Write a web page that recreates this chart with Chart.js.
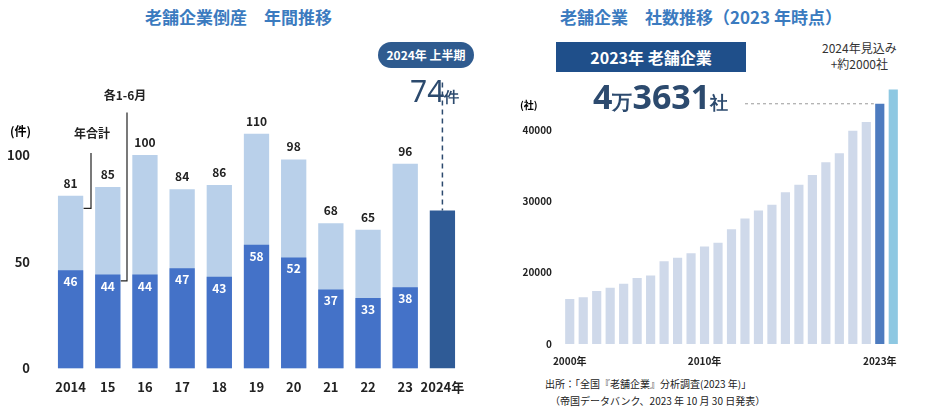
<!DOCTYPE html>
<html><head><meta charset="utf-8">
<script src="https://cdn.jsdelivr.net/npm/chart.js@4"></script>
<style>
body{margin:0;width:932px;height:413px;background:#fff;font-family:"Noto Sans CJK JP",sans-serif;position:relative;overflow:hidden}
.t{position:absolute;white-space:nowrap}
</style></head><body>
<div class="t" style="left:145px;top:4px;font-size:17px;font-weight:bold;color:#3b7bbf">老舗企業倒産　年間推移</div>
<div class="t" style="left:560px;top:4px;font-size:17px;font-weight:bold;color:#3b7bbf">老舗企業　社数推移（2023 年時点）</div>
<canvas id="c1" width="470" height="320" style="position:absolute;left:0;top:80px"></canvas>
<canvas id="c2" width="412" height="290" style="position:absolute;left:520px;top:80px"></canvas>
<div class="t" style="left:378px;top:42px;width:96px;height:26px;border-radius:13px;background:#2f5b8f;color:#fff;font-size:12px;font-weight:bold;text-align:center;line-height:26px">2024年 上半期</div>
<div class="t" style="left:410px;top:70px;font-size:30px;color:#2c4a6e;font-family:'Noto Sans'">74<span style="font-size:15px;font-weight:bold">件</span></div>
<div class="t" style="left:556px;top:42px;width:190px;height:30px;background:#1f4f8a;color:#fff;font-size:16px;font-weight:bold;text-align:center;line-height:30px">2023年 老舗企業</div>
<div class="t" style="left:593px;top:76px;font-size:34px;font-weight:bold;color:#2c4a6e;font-family:'Noto Sans';line-height:40px">4<span style="font-size:20px">万</span>3631<span style="font-size:18px">社</span></div>
<div class="t" style="left:822px;top:40px;font-size:12px;color:#333;text-align:center;line-height:16px">2024年見込み<br>+約2000社</div>
<div class="t" style="left:545px;top:375px;font-size:10px;color:#222;line-height:17px">出所：「全国『老舗企業』分析調査(2023 年)」<br>　（帝国データバンク、2023 年 10 月 30 日発表）</div>
<div class="t" style="left:10px;top:122px;font-size:12px;font-weight:bold">(件)</div>
<div class="t" style="left:520px;top:97px;font-size:10px;font-weight:bold">(社)</div>
<script>
const years1=["2014","15","16","17","18","19","20","21","22","23","2024年"];
const totals=[81,85,100,84,86,110,98,68,65,96,null];
const firstHalf=[46,44,44,47,43,58,52,37,33,38,74];
const years2=["2000","2001","2002","2003","2004","2005","2006","2007","2008","2009","2010","2011","2012","2013","2014","2015","2016","2017","2018","2019","2020","2021","2022","2023","2024"];
const companies=[16310,16530,17430,17880,18420,19230,19590,21580,22070,22700,23650,24190,26080,27570,28690,29500,31260,32300,33650,35450,36710,39860,41080,43631,45631];
const yTicks2=[10000,20000,30000,40000];
const xShown={"2000":"2000年","2010":"2010年","2023":"2023年"};
const F="'Noto Sans CJK JP',sans-serif";

const labels1={id:'l1',afterDatasetsDraw(ch){
 const c=ch.ctx;c.save();c.textAlign='center';
 const m0=ch.getDatasetMeta(0),m1=ch.getDatasetMeta(1),y=ch.scales.y;
 c.font="bold 12px "+F;
 m1.data.forEach((b,i)=>{if(totals[i]!=null){c.fillStyle='#222';c.fillText(totals[i],b.x,b.y-8);}});
 m0.data.forEach((b,i)=>{if(i<10){c.fillStyle='#fff';c.fillText(firstHalf[i],b.x,b.y+16);}});
 c.strokeStyle='#222';c.lineWidth=1.2;
 const b0=m0.data[0],b1=m0.data[1];
 c.beginPath();c.moveTo(91,y.getPixelForValue(101));c.lineTo(91,y.getPixelForValue(75));c.lineTo(b0.x+13,y.getPixelForValue(75));c.stroke();
 c.beginPath();c.moveTo(127,y.getPixelForValue(120));c.lineTo(127,y.getPixelForValue(41));c.lineTo(b1.x+13,y.getPixelForValue(41));c.stroke();
 c.fillStyle='#222';
 c.fillText('年合計',92,y.getPixelForValue(108));
 c.fillText('各1-6月',125,y.getPixelForValue(126));
 const bl=m0.data[10];c.setLineDash([5,4]);c.strokeStyle='#2c4a6e';c.lineWidth=1.5;
 c.beginPath();c.moveTo(bl.x,y.getPixelForValue(134));c.lineTo(bl.x,bl.y);c.stroke();
 c.restore();}};

new Chart(document.getElementById('c1'),{type:'bar',
 data:{labels:years1,datasets:[
  {data:firstHalf,backgroundColor:firstHalf.map((v,i)=>i==10?'#2f5b96':'#4472c8'),grouped:false,barPercentage:0.68,categoryPercentage:1,order:1},
  {data:totals,backgroundColor:'#b9d0ea',grouped:false,barPercentage:0.68,categoryPercentage:1,order:2}]},
 options:{responsive:false,animation:false,devicePixelRatio:1,
  layout:{padding:{left:0,right:9,top:20,bottom:2}},
  plugins:{legend:{display:false},tooltip:{enabled:false}},
  scales:{x:{grid:{display:false},border:{display:false},ticks:{autoSkip:false,maxRotation:0,color:'#222',font:{family:F,size:13,weight:'bold'}}},
   y:{min:0,max:125,grid:{display:false},border:{display:false},afterFit(s){s.width=52},
    ticks:{stepSize:50,color:'#222',padding:14,font:{family:F,size:13,weight:'bold'},callback:v=>v%50==0&&v<=100?v:''}}}},
 plugins:[labels1]});

const dash2={id:'d2',afterDatasetsDraw(ch){const c=ch.ctx,b=ch.getDatasetMeta(0).data[23];c.save();c.setLineDash([3,3]);c.strokeStyle='#999';
 c.beginPath();c.moveTo(225,b.y);c.lineTo(b.x-6,b.y);c.stroke();c.restore();}};
new Chart(document.getElementById('c2'),{type:'bar',
 data:{labels:years2,datasets:[{data:companies,backgroundColor:companies.map((v,i)=>i==23?'#4d7bbf':i==24?'#8ec8e2':'#cfd9ea'),barPercentage:0.68,categoryPercentage:1}]},
 options:{responsive:false,animation:false,devicePixelRatio:1,
  layout:{padding:{right:32,top:0,bottom:0}},
  plugins:{legend:{display:false},tooltip:{enabled:false}},
  scales:{x:{grid:{display:false},border:{display:false},ticks:{autoSkip:false,maxRotation:0,color:'#222',font:{family:F,size:10,weight:'bold'},
    callback:function(v){return xShown[years2[v]]||''}}},
   y:{min:10000,max:45700,grid:{display:false},border:{display:false},afterFit(s){s.width=43},
    afterBuildTicks(s){s.ticks=yTicks2.map(v=>({value:v}))},
    ticks:{autoSkip:false,color:'#222',font:{family:F,size:10,weight:'bold'},callback:v=>v==10000?'0':String(v)}}}},
 plugins:[dash2]});
</script>
</body></html>
